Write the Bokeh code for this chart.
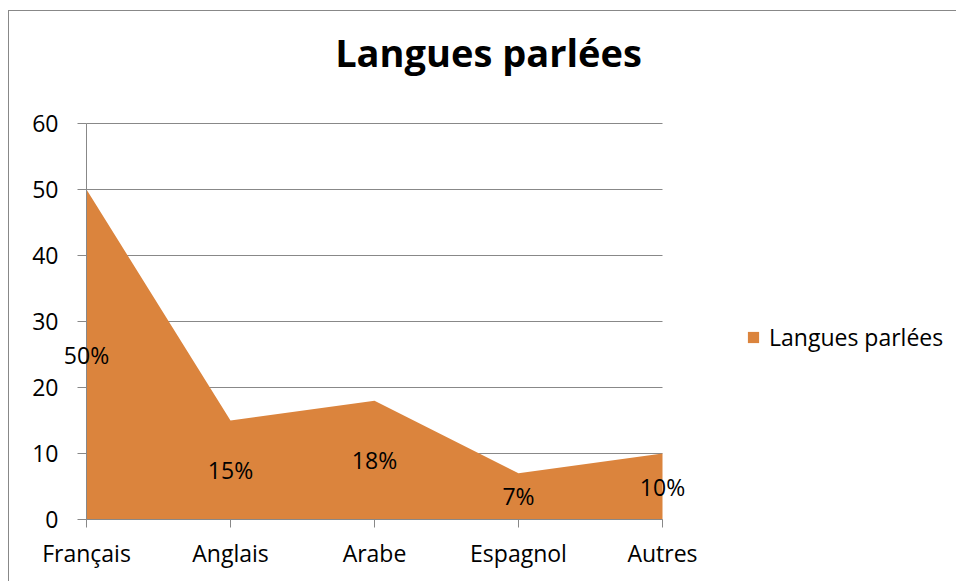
from bokeh.plotting import figure
from bokeh.models import (ColumnDataSource, FixedTicker, Legend, LegendItem, Label)
from bokeh.embed import file_html
from bokeh.resources import INLINE

categories = ["Français", "Anglais", "Arabe", "Espagnol", "Autres"]
values = [50, 15, 18, 7, 10]
value_labels = ["50%", "15%", "18%", "7%", "10%"]
y_ticks = [0, 10, 20, 30, 40, 50, 60]
series_name = "Langues parlées"
title_text = "Langues parlées"

FONT = "Open Sans"
FILL = "#DB843D"
GREY = "#888888"
FS = "23px"

# layout: canvas 948x571 placed at (8,10); plot area spans categories over
# 576 px (144 px / category) and 0..60 over 396 px (6.6 px / unit)
W, H = 948, 571
PX_X, ORIG_X = 144.0, 78.0
PX_Y, ORIG_Y = 6.6, 509.0

xs = list(range(len(categories)))
src = ColumnDataSource(dict(x=xs, y=values, y0=[0] * len(values)))

p = figure(width=W, height=H, output_backend="svg", toolbar_location=None,
           x_range=(-ORIG_X / PX_X, (W - ORIG_X) / PX_X),
           y_range=((ORIG_Y - H) / PX_Y, ORIG_Y / PX_Y),
           min_border=0, min_border_left=0, min_border_right=0,
           min_border_top=0, min_border_bottom=0,
           border_fill_alpha=0, background_fill_alpha=0)
p.styles = {"margin-left": "8px", "margin-top": "10px",
            "box-shadow": "inset 1px 1px 0 0 #888888"}

# gridlines (only across the plot area)
p.segment(x0=[xs[0]] * len(y_ticks), x1=[xs[-1]] * len(y_ticks),
          y0=y_ticks, y1=y_ticks, line_color=GREY, line_width=1)

r = p.varea(x="x", y1="y0", y2="y", source=src, fill_color=FILL)

for xi, v, lab in zip(xs, values, value_labels):
    p.add_layout(Label(x=xi, y=v / 2, text=lab, text_align="center",
                       text_baseline="middle", text_font=FONT,
                       text_font_size=FS, text_color="#000000"))

# title
p.add_layout(Label(x=480, y=H - 41, x_units="screen", y_units="screen",
                   text=title_text, text_align="center",
                   text_baseline="alphabetic", text_font=FONT,
                   text_font_style="bold", text_font_size="38px",
                   text_color="#000000"))

# axes
p.xaxis.fixed_location = 0
p.yaxis.fixed_location = 0
p.xaxis.bounds = (xs[0], xs[-1])
p.yaxis.bounds = (y_ticks[0], y_ticks[-1])
p.xaxis.ticker = FixedTicker(ticks=xs)
p.xaxis.major_label_overrides = {i: c for i, c in enumerate(categories)}
p.yaxis.ticker = FixedTicker(ticks=y_ticks)
for ax in (p.xaxis, p.yaxis):
    ax.major_label_text_font = FONT
    ax.major_label_text_font_size = FS
    ax.major_label_text_color = "#000000"
    ax.axis_line_color = GREY
    ax.major_tick_line_color = GREY
    ax.minor_tick_line_color = None
    ax.major_tick_in = 0
p.xaxis.major_tick_out = 8
p.yaxis.major_tick_out = 9
p.yaxis.major_label_standoff = 19
p.xaxis.major_label_standoff = 9

p.xgrid.visible = False
p.ygrid.visible = False
p.outline_line_color = None

legend = Legend(items=[LegendItem(label=series_name, renderers=[r])],
                location=(738, 228), padding=0, margin=0, spacing=0,
                glyph_width=14, glyph_height=14, label_standoff=9,
                border_line_alpha=0, background_fill_alpha=0,
                label_text_font=FONT, label_text_font_size=FS,
                label_text_color="#000000")
p.add_layout(legend)

open("out.html", "w").write(file_html(p, INLINE))
